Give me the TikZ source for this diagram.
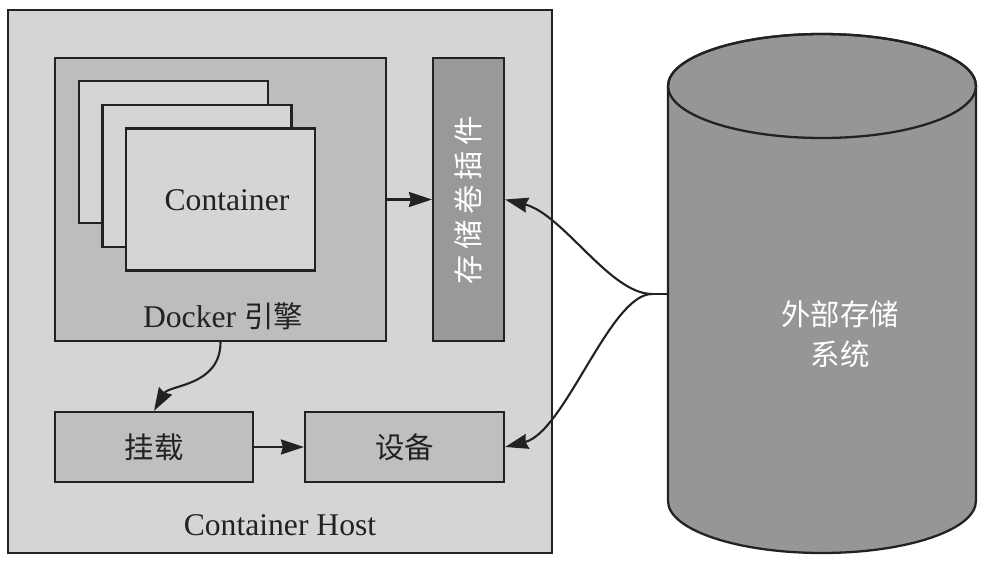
\documentclass[tikz,border=0pt]{standalone}
\usepackage{fontspec}
\setmainfont{Liberation Serif}
\newfontfamily\cjk{Noto Sans CJK SC}[Scale=0.93]
\usepackage{tikz}
\usetikzlibrary{arrows.meta,positioning,shapes}
\usepackage{xcolor}
\definecolor{hostgray}{RGB}{213,213,213}
\definecolor{enginegray}{RGB}{189,189,189}
\definecolor{boxgray}{RGB}{191,191,191}
\definecolor{plugingray}{RGB}{153,153,153}
\definecolor{cylgray}{RGB}{150,150,150}
\definecolor{inkgray}{RGB}{34,34,34}

\begin{document}
\begin{tikzpicture}[x=0.02cm, y=-0.02cm, line width=1.3pt, font=\fontsize{18}{22}\selectfont,
  frame/.style={rectangle, draw=inkgray, inner sep=0pt, text=inkgray},
  flow/.style={-{Stealth[length=4.6mm,width=3mm,inset=0.4mm]}, draw=inkgray, line width=1.2pt}]
\useasboundingbox (0,0) rectangle (994,565);

% host and engine
\node (host) [frame, minimum width=10.88cm, minimum height=10.86cm, fill=hostgray] at (280,281.5) {};
\node (engine) [frame, minimum width=6.62cm, minimum height=5.66cm, fill=enginegray] at (220.5,199.5) {};
\node (back) [frame, minimum width=3.78cm, minimum height=2.84cm, fill=hostgray] at (173.5,152) {};
\node (middle) [frame, minimum width=3.78cm, minimum height=2.84cm, fill=hostgray] at (197,176) {};
\node (front) [frame, minimum width=3.78cm, minimum height=2.84cm, fill=hostgray] at (220.5,199.5) {};
\node (ctext) [text=inkgray] at (227,200) {Container};
\node (elabel) [text=inkgray] at (223,316) {Docker {\cjk 引擎}};
\node (plugin) [frame, minimum width=1.42cm, minimum height=5.66cm, fill=plugingray] at (468.5,199.5) {};
\node (ptext) [rotate=90, text=white] at (468.5,200) {\cjk 存\hspace{3pt}储\hspace{3pt}卷\hspace{3pt}插\hspace{3pt}件};

\node (mount) [frame, minimum width=3.96cm, minimum height=1.4cm, fill=boxgray] at (154,447) {\cjk 挂载};
\node (device) [frame, minimum width=3.98cm, minimum height=1.4cm, fill=boxgray] at (404.5,447) {\cjk 设备};
\node (hlabel) [text=inkgray] at (280,525) {Container Host};

% external storage
\filldraw [fill=cylgray, draw=inkgray] (668,86) -- (668,501)
  arc[start angle=180, end angle=360, x radius=3.08cm, y radius=1.04cm] -- (976,86)
  arc[start angle=0, end angle=180, x radius=3.08cm, y radius=1.04cm] -- cycle;
\draw [draw=inkgray] (822,86) ellipse [x radius=3.08cm, y radius=1.04cm];
\node (ext) [text=white, align=center] at (840,334) {\cjk 外部存储\\[1pt]\cjk 系统};
\coordinate (extw) at (668,294);
\coordinate (join) at (652,294);

\draw [flow] (engine.east) -- (plugin.west);
\draw [flow] (mount.east) -- (device.west);
\draw [flow] (engine.south) .. controls +(0,44) and +(15,-26) .. (mount.north);
\draw [draw=inkgray, line width=1.2pt] (extw) -- (join);
\draw [flow] (join) .. controls (610,294) and (563,214) .. (plugin.east);
\draw [flow] (join) .. controls (610,294) and (565,432) .. (device.east);
\end{tikzpicture}
\end{document}
